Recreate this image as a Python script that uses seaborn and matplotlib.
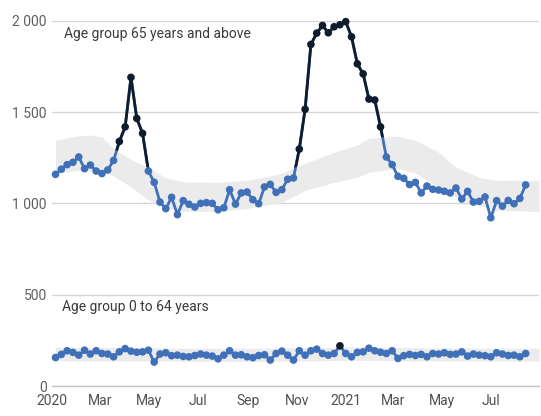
import numpy as np
import pandas as pd
import matplotlib
matplotlib.use("Agg")
import matplotlib.pyplot as plt
from matplotlib.patches import Polygon
from matplotlib.ticker import FuncFormatter
import seaborn as sns

# ---------------- data ----------------
week = np.arange(82)  # weekly observations, Jan 2020 -> Aug 2021

deaths_65plus = [1159, 1187, 1212, 1225, 1254, 1190, 1210, 1177, 1163, 1183,
                 1235, 1339, 1419, 1690, 1465, 1383, 1177, 1115, 1007, 971,
                 1033, 938, 1015, 995, 980, 1000, 1004, 1000, 965, 976,
                 1075, 996, 1057, 1062, 1020, 998, 1090, 1104, 1060, 1075,
                 1132, 1139, 1297, 1515, 1870, 1932, 1974, 1934, 1967, 1978,
                 1995, 1912, 1764, 1709, 1571, 1566, 1419, 1254, 1212, 1148,
                 1137, 1103, 1115, 1057, 1095, 1077, 1073, 1066, 1057, 1084,
                 1024, 1066, 1007, 1011, 1035, 921, 1015, 985, 1016, 998,
                 1027, 1101]

deaths_0_64 = [156, 173, 193, 184, 169, 196, 175, 193, 178, 175,
               160, 187, 205, 191, 185, 187, 196, 131, 175, 182,
               166, 169, 162, 160, 167, 175, 169, 164, 149, 169,
               193, 169, 171, 160, 155, 167, 171, 142, 178, 191,
               169, 142, 193, 169, 193, 202, 178, 169, 178, 220,
               178, 160, 184, 187, 207, 193, 185, 178, 193, 151,
               166, 173, 167, 173, 160, 178, 175, 182, 173, 175,
               187, 164, 175, 169, 166, 160, 182, 175, 167, 169,
               160, 178]

# expected range (grey band)
band65_x = [0, 4, 6, 8, 10, 13, 16, 19, 22, 28, 33, 36, 39, 43, 48, 52, 54,
            59, 62, 66, 69, 73, 76, 83.3]
band65_hi = [1346, 1370, 1374, 1363, 1300, 1240, 1195, 1140, 1118, 1115, 1126,
             1143, 1165, 1220, 1280, 1320, 1357, 1368, 1346, 1280, 1198, 1143,
             1126, 1126]
band65_lo = [1165, 1181, 1178, 1172, 1150, 1090, 1020, 975, 958, 956, 972,
             989, 1005, 1071, 1115, 1143, 1170, 1192, 1165, 1088, 1033, 989,
             962, 956]

band064_x = [0, 12, 24, 36, 48, 50, 52, 60, 72, 83.3]
band064_hi = [212, 211, 206, 207, 212, 213, 214, 210, 207, 207]
band064_lo = [138, 138, 135, 135, 139, 140, 141, 138, 136, 136]

tick_dates = ["2020-01-01", "2020-03-01", "2020-05-01", "2020-07-01",
              "2020-09-01", "2020-11-01", "2021-01-01", "2021-03-01",
              "2021-05-01", "2021-07-01"]
tick_labels = ["2020", "Mar", "May", "Jul", "Sep", "Nov", "2021", "Mar",
               "May", "Jul"]
y_ticks = [0, 500, 1000, 1500, 2000]

series_labels = ["Age group 65 years and above", "Age group 0 to 64 years"]

# ---------------- style ----------------
sns.set_theme(style="white")
plt.rcParams["font.family"] = ["Roboto", "DejaVu Sans"]

BLUE = "#3f70b8"
DARK = "#0f1c2e"
BAND = "#ebebeb"
GRID = "#d6d6d6"

fig = plt.figure(figsize=(5.41, 4.16), dpi=100)
ax = fig.add_axes([0.0967, 0.0721, 0.8996, 0.8781])

series = [
    (deaths_65plus, band65_x, band65_lo, band65_hi, 2600),
    (deaths_0_64, band064_x, band064_lo, band064_hi, 450),
]

for vals, bx, blo, bhi, ceiling in series:
    vals = np.asarray(vals, dtype=float)
    ax.fill_between(bx, blo, bhi, color=BAND, lw=0, zorder=1)
    df = pd.DataFrame({"week": week, "deaths": vals})
    sns.lineplot(data=df, x="week", y="deaths", color=BLUE, lw=2, ax=ax,
                 zorder=3)
    sns.lineplot(data=df, x="week", y="deaths", color=DARK, lw=2, ax=ax,
                 zorder=4)
    dark_line = ax.lines[-1]
    clip_xy = np.column_stack([list(bx) + [bx[-1], bx[0]],
                               list(bhi) + [ceiling, ceiling]])
    clip_poly = Polygon(clip_xy, closed=True, transform=ax.transData)
    dark_line.set_clip_path(clip_poly)
    excess = vals > np.interp(week, bx, bhi)
    sns.scatterplot(x=week, y=vals, hue=excess,
                    palette={False: BLUE, True: DARK}, s=30,
                    edgecolor="none", linewidth=0, legend=False, ax=ax,
                    zorder=5)
    ax.collections[-1].set_clip_on(False)

ax.text(1.5, 1929, series_labels[0], fontsize=10, color="#3a3a3a",
        va="center", ha="left")
ax.text(1.2, 431, series_labels[1], fontsize=10, color="#3a3a3a",
        va="center", ha="left")

# x axis: month ticks expressed in observation-step units
origin = pd.Timestamp("2020-01-05")
tick_pos = [(pd.Timestamp(d) - origin).days / 7.24 for d in tick_dates]
ax.set_xticks(tick_pos)
ax.set_xticklabels(tick_labels)
ax.set_xlim(tick_pos[0], 83.3)

ax.set_ylim(0, 2000)
ax.set_yticks(y_ticks)
ax.yaxis.set_major_formatter(
    FuncFormatter(lambda v, p: f"{int(v):,}".replace(",", " ")))
ax.yaxis.grid(True, color=GRID, lw=1)
ax.xaxis.grid(False)
ax.set_axisbelow(True)

for side in ["left", "right", "top"]:
    ax.spines[side].set_visible(False)
ax.spines["bottom"].set_color("#c4c4c4")
ax.spines["bottom"].set_linewidth(1)

ax.tick_params(axis="y", length=0, pad=4, labelsize=10, labelcolor="#5f5f5f")
ax.tick_params(axis="x", length=4, width=1, color="#c4c4c4", pad=2,
               labelsize=10, labelcolor="#505050", direction="out")
ax.set_xlabel("")
ax.set_ylabel("")

fig.savefig("out.png", dpi=100)
